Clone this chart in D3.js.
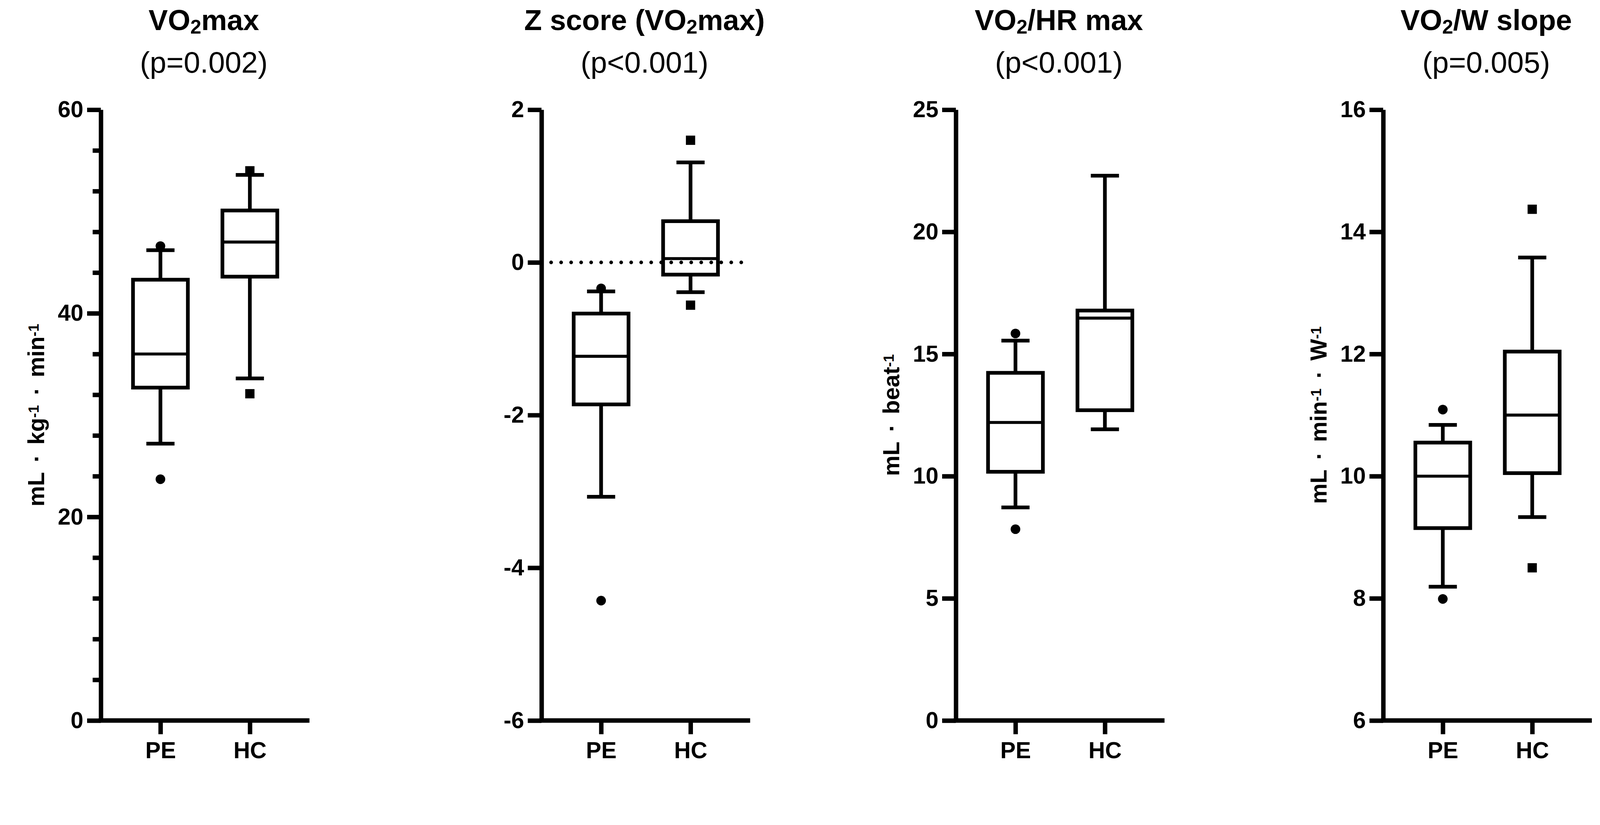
<!DOCTYPE html>
<html lang="en">
<head>
  <meta charset="UTF-8">
  <title>Box plots</title>
  <style>
    html, body { margin: 0; padding: 0; background: #fff; overflow: hidden; }
    svg { display: block; width: 100vw; height: 100vh; font-family: "Liberation Sans", Arial, sans-serif; }
    .axis path, .axis line { stroke: #000; stroke-width: 12; }
    .axis text { fill: #000; font-size: 62px; font-weight: bold; }
    .box rect, .box line { stroke: #000; stroke-width: 10; fill: none; }
    .title { font-size: 78px; font-weight: bold; text-anchor: middle; }
    .subtitle { font-size: 80px; text-anchor: middle; }
    .ylabel { font-size: 62px; font-weight: bold; text-anchor: middle; word-spacing: 10px; }
  </style>
</head>
<body>
<svg viewBox="0 0 4317 2112" preserveAspectRatio="xMidYMin meet"></svg>

<script src="https://cdn.jsdelivr.net/npm/d3@7"></script>
<script>
  // groups on the x axis
  const groups = ["PE", "HC"];

  // box values: [whisker low, Q1, median, Q3, whisker high]
  const vo2maxPE = [27.2, 32.7, 36.0, 43.3, 46.2];
  const vo2maxHC = [33.6, 43.6, 47.0, 50.1, 53.6];
  const zscorePE = [-3.07, -1.86, -1.23, -0.67, -0.38];
  const zscoreHC = [-0.39, -0.16, 0.05, 0.54, 1.31];
  const hrPE = [8.72, 10.18, 12.2, 14.23, 15.55];
  const hrHC = [11.92, 12.7, 16.47, 16.78, 22.3];
  const slopePE = [8.19, 9.15, 10.0, 10.55, 10.84];
  const slopeHC = [9.33, 10.05, 11.0, 12.04, 13.58];

  // outliers
  const vo2maxOutPE = [46.6, 23.7];
  const vo2maxOutHC = [54.0, 32.1];
  const zscoreOutPE = [-0.34, -4.43];
  const zscoreOutHC = [1.60, -0.56];
  const hrOutPE = [15.84, 7.83];
  const hrOutHC = [];
  const slopeOutPE = [11.09, 7.99];
  const slopeOutHC = [14.37, 8.5];

  // y axis ticks
  const vo2maxTicks = [0, 20, 40, 60];
  const vo2maxMinor = [4, 8, 12, 16, 24, 28, 32, 36, 44, 48, 52, 56];
  const zscoreTicks = [-6, -4, -2, 0, 2];
  const hrTicks = [0, 5, 10, 15, 20, 25];
  const slopeTicks = [6, 8, 10, 12, 14, 16];

  const titles = ["VO|max", "Z score (VO|max)", "VO|/HR max", "VO|/W slope"];
  const pvalues = ["(p=0.002)", "(p<0.001)", "(p<0.001)", "(p=0.005)"];
  const ylabels = [
    [["mL · kg", ""], ["-1", "sup"], [" · min", ""], ["-1", "sup"]],
    [],
    [["mL · beat", ""], ["-1", "sup"]],
    [["mL · min", ""], ["-1", "sup"], [" · W", ""], ["-1", "sup"]]
  ];

  const panels = [
    {left: 272, ticks: vo2maxTicks, minor: vo2maxMinor, boxes: [vo2maxPE, vo2maxHC], out: [vo2maxOutPE, vo2maxOutHC]},
    {left: 1461, ticks: zscoreTicks, minor: [], boxes: [zscorePE, zscoreHC], out: [zscoreOutPE, zscoreOutHC], zeroLine: true},
    {left: 2579, ticks: hrTicks, minor: [], boxes: [hrPE, hrHC], out: [hrOutPE, hrOutHC]},
    {left: 3732, ticks: slopeTicks, minor: [], boxes: [slopePE, slopeHC], out: [slopeOutPE, slopeOutHC]}
  ];

  const svg = d3.select("svg");
  const yTop = 296, yBottom = 1944;
  const boxHalf = 74, capHalf = 38;

  panels.forEach(function (p, i) {
    const g = svg.append("g");

    const y = d3.scaleLinear()
      .domain(d3.extent(p.ticks))
      .range([yBottom, yTop]);

    const x = d3.scalePoint()
      .domain(groups)
      .range([p.left, p.left + 563])
      .padding(2 / 3);

    // boxes
    p.boxes.forEach(function (b, j) {
      const cx = x(groups[j]);
      const bx = g.append("g").attr("class", "box");
      bx.append("line")
        .attr("x1", cx).attr("x2", cx)
        .attr("y1", y(b[0])).attr("y2", y(b[1]));
      bx.append("line")
        .attr("x1", cx).attr("x2", cx)
        .attr("y1", y(b[3])).attr("y2", y(b[4]));
      [b[0], b[4]].forEach(function (v) {
        bx.append("line")
          .attr("x1", cx - capHalf).attr("x2", cx + capHalf)
          .attr("y1", y(v)).attr("y2", y(v));
      });
      bx.append("rect")
        .attr("x", cx - boxHalf)
        .attr("width", boxHalf * 2)
        .attr("y", y(b[3]))
        .attr("height", y(b[1]) - y(b[3]));
      bx.append("line")
        .attr("x1", cx - boxHalf).attr("x2", cx + boxHalf)
        .attr("y1", y(b[2])).attr("y2", y(b[2]))
        .style("stroke-width", 8);

      // outliers: circles for PE, squares for HC
      p.out[j].forEach(function (v) {
        if (j === 0) {
          g.append("circle")
            .attr("cx", cx).attr("cy", y(v)).attr("r", 13);
        } else {
          g.append("rect")
            .attr("x", cx - 12.5).attr("y", y(v) - 12.5)
            .attr("width", 25).attr("height", 25);
        }
      });
    });

    if (p.zeroLine) {
      g.append("line")
        .attr("x1", p.left + 26).attr("x2", p.left + 565)
        .attr("y1", y(0)).attr("y2", y(0))
        .attr("stroke", "#000")
        .attr("stroke-width", 10)
        .attr("stroke-linecap", "round")
        .attr("stroke-dasharray", "0 27");
    }

    // y axis
    g.append("g")
      .attr("class", "axis")
      .attr("transform", "translate(" + p.left + ",0)")
      .call(d3.axisLeft(y).tickValues(p.ticks).tickSize(37).tickSizeOuter(0).tickPadding(10)
        .tickFormat(function (d) { return String(d); }));

    if (p.minor.length) {
      const m = g.append("g")
        .attr("class", "axis")
        .attr("transform", "translate(" + p.left + ",0)")
        .call(d3.axisLeft(y).tickValues(p.minor).tickSize(22).tickFormat(""));
      m.select(".domain").remove();
    }

    // x axis
    const xa = g.append("g")
      .attr("class", "axis")
      .attr("transform", "translate(0," + yBottom + ")")
      .call(d3.axisBottom(x).tickSize(37).tickSizeOuter(0).tickPadding(21));
    xa.select(".domain").attr("d", "M" + (p.left - 6) + ",0H" + (p.left + 563));

    // title with subscript 2
    const cx = p.left + 278;
    const parts = titles[i].split("|");
    const t = svg.append("text")
      .attr("class", "title")
      .attr("x", cx)
      .attr("y", 81);
    t.append("tspan").text(parts[0]);
    t.append("tspan").attr("baseline-shift", "-18%").attr("font-size", "0.68em").text("2");
    t.append("tspan").text(parts[1]);

    svg.append("text")
      .attr("class", "subtitle")
      .attr("x", cx)
      .attr("y", 196)
      .text(pvalues[i]);

    // y label
    if (ylabels[i].length) {
      const lab = svg.append("text")
        .attr("class", "ylabel")
        .attr("transform", "translate(" + (p.left - 153) + "," + ((yTop + yBottom) / 2) + ") rotate(-90)");
      ylabels[i].forEach(function (s) {
        const ts = lab.append("tspan").text(s[0]);
        if (s[1] === "sup") {
          ts.attr("baseline-shift", "38%").attr("font-size", "0.62em");
        }
      });
    }
  });
</script>
</body>
</html>
